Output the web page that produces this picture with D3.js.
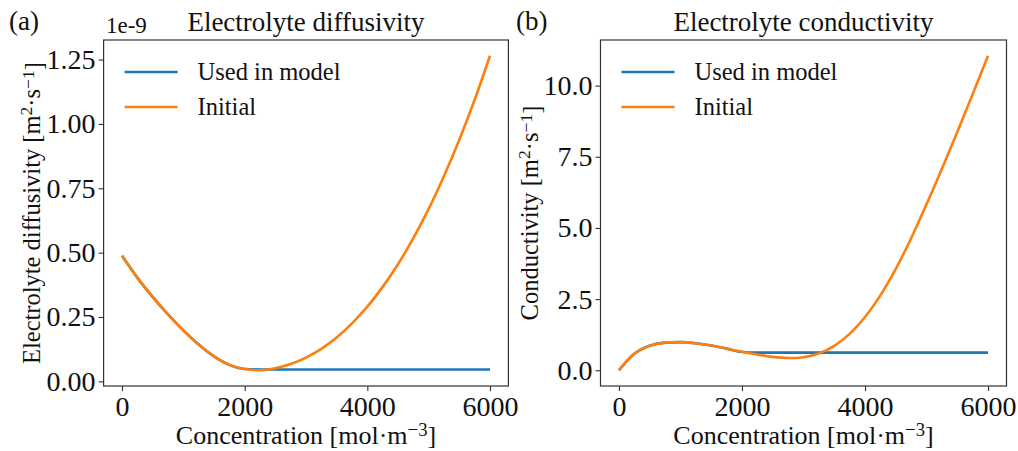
<!DOCTYPE html>
<html>
<head>
<meta charset="utf-8">
<script src="https://cdn.jsdelivr.net/npm/d3@7"></script>
<style>
  html, body { margin: 0; padding: 0; background: #fff; }
  svg text { font-family: "Liberation Serif", "Times New Roman", serif; fill: #111; }
</style>
</head>
<body>
<svg id="chart" width="1018" height="451"></svg>
<script>
// ---------------- data ----------------
const concentration = [0,250,500,750,1000,1250,1500,1750,2000,2250,2500,2750,3000,3250,3500,3750,4000,4250,4500,4750,5000,5250,5500,5750,6000];
// Electrolyte diffusivity, initial (x 1e-9 m^2/s)
const diffusivityInitial = [0.488,0.403,0.328,0.260,0.198,0.143,0.097,0.064,0.048,0.043,0.051,0.067,0.092,0.126,0.170,0.225,0.290,0.367,0.455,0.556,0.670,0.798,0.939,1.094,1.265];
// Electrolyte diffusivity used in model
const diffusivityUsedConc = [0,250,500,750,1000,1250,1500,1750,2000,2250,6000];
const diffusivityUsed = [0.488,0.403,0.328,0.260,0.198,0.143,0.097,0.064,0.048,0.046,0.046];
// Electrolyte conductivity, initial
const conductivityInitial = [0,0.58,0.86,0.97,0.99,0.95,0.87,0.76,0.65,0.55,0.47,0.43,0.46,0.59,0.86,1.28,1.87,2.63,3.56,4.64,5.83,7.08,8.37,9.70,11.05];
// Electrolyte conductivity used in model
const conductivityUsedConc = [0,250,500,750,1000,1250,1500,1750,2000,2250,6000];
const conductivityUsed = [0,0.58,0.86,0.97,0.99,0.95,0.87,0.76,0.64,0.62,0.62];

const xTicks = [0,2000,4000,6000];
const diffTicks = [0,0.25,0.5,0.75,1.0,1.25];
const condTicks = [0,2.5,5,7.5,10];

const seriesNames = ["Used in model","Initial"];
const colors = ["#1f77b4","#ff7f0e"];

// ---------------- drawing ----------------
const svg = d3.select("#chart");
const TICKFONT = 28, TITLEFONT = 27, XLABELFONT = 26, YLABELFONT = 24.5, LEGENDFONT = 24.5;

function pad(ext){ const r = ext[1]-ext[0]; return [ext[0]-0.05*r, ext[1]+0.05*r]; }

function panel(opts){
  const {left, right, top, bottom, xs, ysInit, xsUsed, ysUsed, yTicks, yFmt, title, letter, letterX, ylabelMain, ylabelX} = opts;
  const g = svg.append("g");
  const x = d3.scaleLinear().domain(pad(d3.extent(xs))).range([left,right]);
  const allY = ysInit.concat(ysUsed);
  const y = d3.scaleLinear().domain(pad(d3.extent(allY))).range([bottom,top]);

  // axes
  const xAxis = d3.axisBottom(x).tickValues(xTicks).tickSize(5).tickPadding(5).tickFormat(d3.format("d"));
  const yAxis = d3.axisLeft(y).tickValues(yTicks).tickSize(5).tickPadding(3).tickFormat(yFmt);
  const gx = g.append("g").attr("transform",`translate(0,${bottom})`).call(xAxis);
  const gy = g.append("g").attr("transform",`translate(${left},0)`).call(yAxis);
  [gx,gy].forEach(a=>{
    a.select(".domain").remove();
    a.selectAll(".tick line").attr("stroke","#333").attr("stroke-width",1.1);
    a.selectAll(".tick text").style("font-family","Liberation Serif, serif").style("font-size",TICKFONT+"px").attr("fill","#111");
  });
  gx.selectAll(".tick text").attr("dy","0.71em");

  // lines
  const line = d3.line().x(d=>x(d[0])).y(d=>y(d[1])).curve(d3.curveCatmullRom.alpha(0.5));
  const lineUsed = d3.line().x(d=>x(d[0])).y(d=>y(d[1])).curve(d3.curveMonotoneX);
  const used = xsUsed.map((c,i)=>[c,ysUsed[i]]);
  const init = xs.map((c,i)=>[c,ysInit[i]]);
  g.append("path").datum(used).attr("d",lineUsed).attr("fill","none").attr("stroke",colors[0]).attr("stroke-width",2.6);
  g.append("path").datum(init).attr("d",line).attr("fill","none").attr("stroke",colors[1]).attr("stroke-width",2.6);

  // frame
  g.append("rect").attr("x",left).attr("y",top).attr("width",right-left).attr("height",bottom-top)
    .attr("fill","none").attr("stroke","#333").attr("stroke-width",1.2);

  // legend
  seriesNames.forEach((n,i)=>{
    const ly = top + 32 + i*35;
    g.append("line").attr("x1",left+21).attr("x2",left+74).attr("y1",ly).attr("y2",ly)
      .attr("stroke",colors[i]).attr("stroke-width",2.6);
    g.append("text").attr("x",left+94).attr("y",ly+8).style("font-size",LEGENDFONT+"px").text(n);
  });

  // title
  g.append("text").attr("x",(left+right)/2).attr("y",top-9).attr("text-anchor","middle")
    .style("font-size",TITLEFONT+"px").text(title);
  // panel letter
  g.append("text").attr("x",letterX).attr("y",30).style("font-size","27px").text(letter);

  // x label
  const xl = g.append("text").attr("x",(left+right)/2).attr("y",444).attr("text-anchor","middle").style("font-size",XLABELFONT+"px");
  xl.append("tspan").text("Concentration [mol·m");
  xl.append("tspan").attr("dy","-0.45em").style("font-size","0.72em").text("−3");
  xl.append("tspan").attr("dy","0.32em").text("]");

  // y label
  const yl = g.append("text").attr("transform",`translate(${ylabelX},${(top+bottom)/2}) rotate(-90)`)
    .attr("text-anchor","middle").style("font-size",YLABELFONT+"px");
  yl.append("tspan").text(ylabelMain + " [m");
  yl.append("tspan").attr("dy","-0.45em").style("font-size","0.72em").text("2");
  yl.append("tspan").attr("dy","0.32em").text("·s");
  yl.append("tspan").attr("dy","-0.32em").style("font-size","0.72em").text("−1");
  yl.append("tspan").attr("dy","0.32em").text("]");
  return g;
}

const pa = panel({left:103.6,right:508.4,top:40,bottom:386,
  xs:concentration, ysInit:diffusivityInitial, xsUsed:diffusivityUsedConc, ysUsed:diffusivityUsed,
  yTicks:diffTicks, yFmt:d3.format(".2f"), title:"Electrolyte diffusivity", letter:"(a)", letterX:9,
  ylabelMain:"Electrolyte diffusivity", ylabelX:40});
pa.append("text").attr("x",106).attr("y",33).style("font-size","23px").text("1e-9");

panel({left:600.5,right:1006.5,top:40,bottom:386,
  xs:concentration, ysInit:conductivityInitial, xsUsed:conductivityUsedConc, ysUsed:conductivityUsed,
  yTicks:condTicks, yFmt:d3.format(".1f"), title:"Electrolyte conductivity", letter:"(b)", letterX:516,
  ylabelMain:"Conductivity", ylabelX:538});
</script>
</body>
</html>
